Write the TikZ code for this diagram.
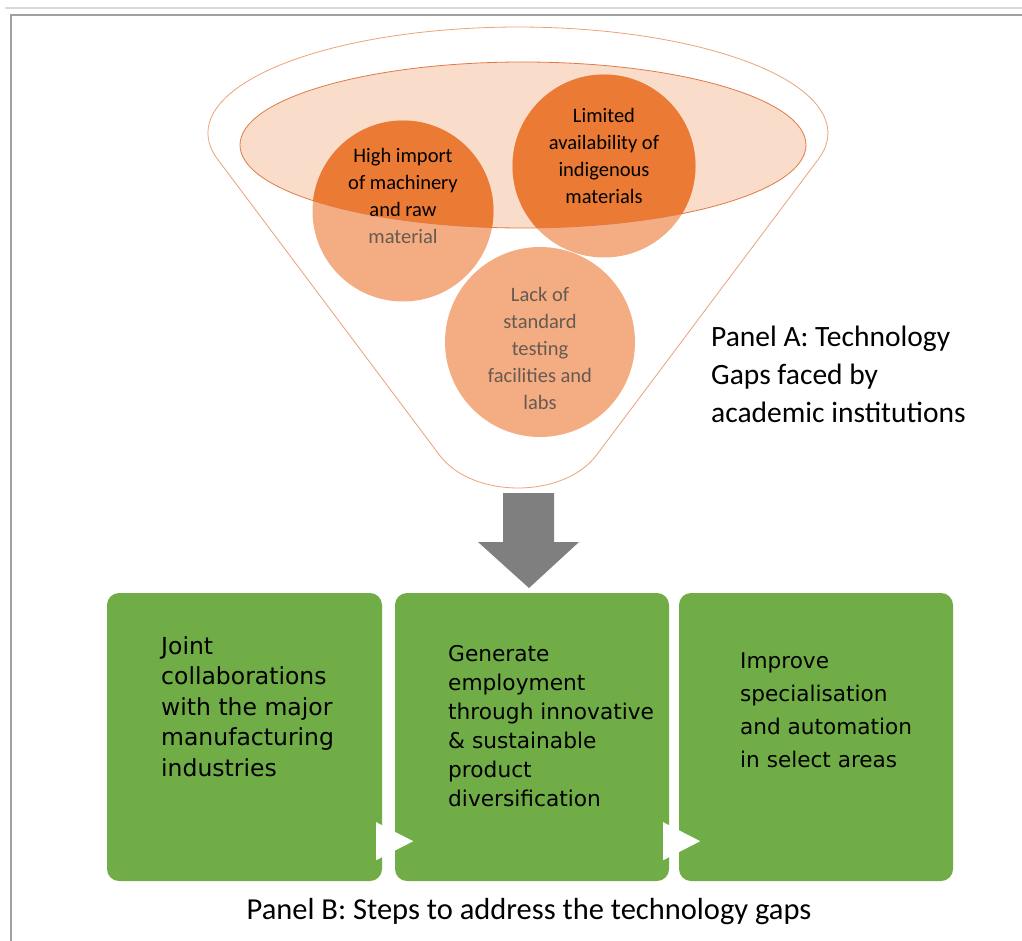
\documentclass[tikz,border=0pt]{standalone}
\usepackage{fontspec}
\setmainfont{Carlito}
\newfontfamily\boxfont{DejaVu Sans}
\usetikzlibrary{calc}
\definecolor{darkor}{HTML}{EB7A35}
\definecolor{lightor}{HTML}{F4AD82}
\definecolor{ellfill}{HTML}{FADCCB}
\definecolor{ellline}{HTML}{E07B45}
\definecolor{funline}{HTML}{EDA27A}
\definecolor{boxgreen}{HTML}{70AD47}
\definecolor{arrgray}{HTML}{7F7F7F}
\definecolor{frame}{HTML}{A0A0A0}
\definecolor{graytext}{HTML}{665A52}
\begin{document}
\begin{tikzpicture}[x=1pt,y=-1pt,
  gapcircle/.style={circle, fill=lightor, inner sep=0pt, draw=none},
  circtext/.style={font=\fontsize{20.5}{27}\selectfont, align=center, inner sep=0pt},
  stepbox/.style={rounded corners=12pt, fill=boxgreen, minimum height=288pt, inner sep=0pt, draw=none},
  steptext/.style={anchor=north west, align=left, inner sep=0pt, text=black},
  playtri/.style={fill=white, draw=none}
]
\useasboundingbox (0,0) rectangle (1022,941);
\fill[white] (0,0) rectangle (1022,941);
% frame
\draw[line width=2pt, black!15] (5,8) -- (1022,8);
\draw[line width=2.2pt, frame] (10,15) -- (1022,15);
\draw[line width=2.2pt, frame] (11,15) -- (11,941);

% funnel outline
\draw[funline, line width=0.8pt]
  (217.7,159.4) arc[start angle=165.6, end angle=374.4, x radius=310, y radius=106]
  -- (596.6,455) .. controls (563.6,499) and (472.4,499) .. (439.4,455) -- cycle;

% inner ellipse fill
\fill[ellfill] (523,145) ellipse[x radius=283, y radius=83];

% circles
\node[gapcircle, minimum size=181pt] (c1) at (403,211) {};
\node[gapcircle, minimum size=183pt] (c2) at (604,166) {};
\node[gapcircle, minimum size=190pt] (c3) at (540,342) {};
\begin{scope}
  \clip (523,145) ellipse[x radius=283, y radius=83];
  \fill[darkor] (c1.center) circle[radius=90.5];
  \fill[darkor] (c2.center) circle[radius=91.5];
\end{scope}
\draw[ellline, line width=0.8pt] (523,145) ellipse[x radius=283, y radius=83];

% circle texts
\node[circtext] (t1) at (403,196) {High import\\of machinery\\and raw\\\textcolor{graytext}{material}};
\node[circtext] (t2) at (604,156) {Limited\\availability of\\indigenous\\materials};
\node[circtext, text=graytext] (t3) at (540,348) {Lack of\\standard\\testing\\facilities and\\labs};

% panel A label
\node[anchor=north west, align=left, inner sep=0pt, font=\fontsize{29.5}{38}\selectfont] (pa) at (711,326)
  {Panel A: Technology\\Gaps faced by\\academic institutions};

% boxes
\node[stepbox, minimum width=275pt] (b1) at (244.5,737) {};
\node[stepbox, minimum width=274pt] (b2) at (532,737) {};
\node[stepbox, minimum width=274pt] (b3) at (816,737) {};

% down arrow from funnel to middle box
\coordinate (ar) at (529,588);
\fill[arrgray] (ar) -- ++(50,-46) -- ++(-25,0) -- ++(0,-49) -- ++(-51,0) -- ++(0,49) -- ++(-25,0) -- cycle;

% step texts
\node[steptext, font=\boxfont\fontsize{23.5}{30.5}\selectfont] (s1) at (161,636)
  {Joint\\collaborations\\with the major\\manufacturing\\industries};
\node[steptext, font=\boxfont\fontsize{21.7}{29}\selectfont] (s2) at (448,645)
  {Generate\\employment\\through innovative\\\& sustainable\\product\\diversification};
\node[steptext, font=\boxfont\fontsize{21.6}{33}\selectfont] (s3) at (740,653)
  {Improve\\specialisation\\and automation\\in select areas};

% white play triangles
\fill[playtri] ([xshift=-6pt,yshift=59pt]b1.south east) -- ([xshift=31pt,yshift=40pt]b1.south east) -- ([xshift=-6pt,yshift=21pt]b1.south east) -- cycle;
\fill[playtri] ([xshift=-6pt,yshift=59pt]b2.south east) -- ([xshift=31pt,yshift=40pt]b2.south east) -- ([xshift=-6pt,yshift=21pt]b2.south east) -- cycle;

% panel B label
\node[inner sep=0pt, font=\fontsize{30.5}{34}\selectfont] (pb) at (529,912) {Panel B: Steps to address the technology gaps};
\end{tikzpicture}
\end{document}
